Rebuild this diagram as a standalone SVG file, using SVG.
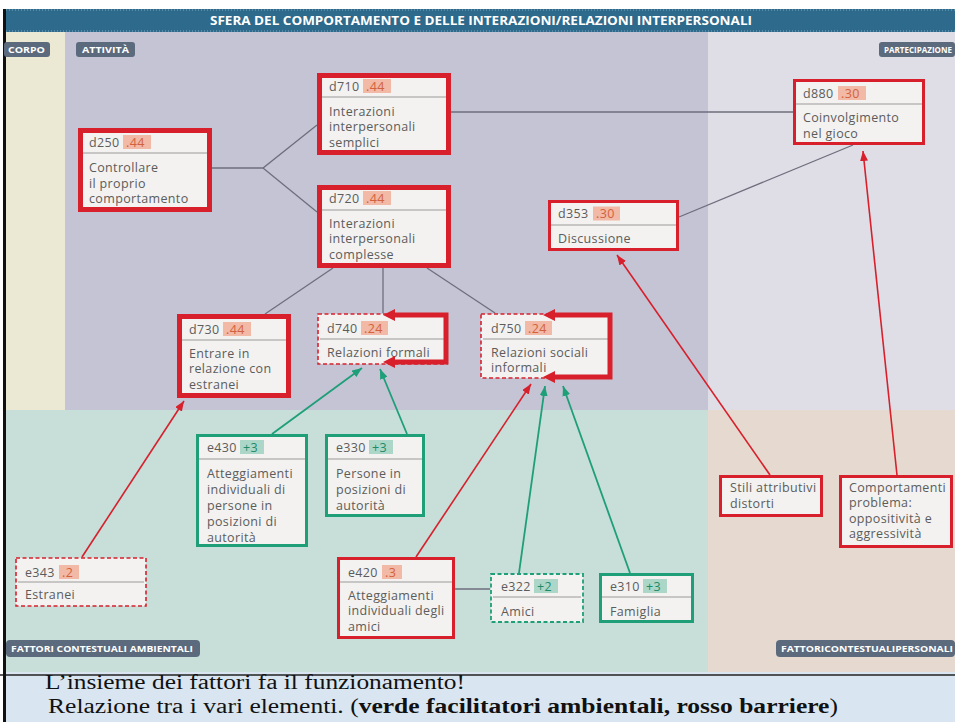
<svg xmlns="http://www.w3.org/2000/svg" width="955" height="722" viewBox="0 0 955 722">
  <defs>
    <style>
      .t { font-family: "Open Sans", "Noto Sans", sans-serif; font-size: 12.5px; letter-spacing: 0.35px; fill: #5c5c5c; }
      .red { stroke: #d7202c; fill: #f3f2f0; }
      .thick { stroke-width: 5; }
      .mid { stroke-width: 3; }
      .dash-r { stroke: #d7202c; stroke-width: 1.6; stroke-dasharray: 4 2.5; fill: #f3f2f0; }
      .green { stroke: #1f9f78; fill: #f3f2f0; stroke-width: 3; }
      .dash-g { stroke: #1f9f78; stroke-width: 1.8; stroke-dasharray: 4 2.5; fill: #f3f2f0; }
      .div { stroke: #9a9a9a; stroke-width: 1; }
      .hr { fill: #f1b9a6; }
      .hrt { fill: #d2623e; }
      .hg { fill: #acd7c8; }
      .hgt { fill: #1f8a68; }
      .link { stroke: #6e6e7c; stroke-width: 1.3; fill: none; }
      .ar { stroke: #d7202c; stroke-width: 1.6; fill: none; marker-end: url(#hr); }
      .ag { stroke: #1f9f78; stroke-width: 1.8; fill: none; marker-end: url(#hg); }
      .bracket { stroke: #d7202c; stroke-width: 5; fill: none; marker-start: url(#hb); marker-end: url(#hb); }
      .tag { fill: #5b6a7c; }
      .tagt { font-family: "Open Sans", "Noto Sans", sans-serif; font-weight: 700; font-size: 8.5px; fill: #ffffff; }
      .foot { font-family: "Liberation Serif", "DejaVu Serif", serif; font-size: 20px; fill: #111111; }
    </style>
    <marker id="hr" viewBox="0 0 10 8" refX="10" refY="4" markerWidth="10" markerHeight="8" markerUnits="userSpaceOnUse" orient="auto">
      <path d="M0,0 L10,4 L0,8 z" fill="#d7202c"/>
    </marker>
    <marker id="hg" viewBox="0 0 10 8" refX="10" refY="4" markerWidth="10" markerHeight="8" markerUnits="userSpaceOnUse" orient="auto">
      <path d="M0,0 L10,4 L0,8 z" fill="#1f9f78"/>
    </marker>
    <marker id="hb" viewBox="0 0 12 12" refX="0" refY="6" markerWidth="12" markerHeight="12" markerUnits="userSpaceOnUse" orient="auto-start-reverse">
      <path d="M0,0 L12,6 L0,12 z" fill="#d7202c"/>
    </marker>
  </defs>

  <!-- page -->
  <rect x="0" y="0" width="955" height="722" fill="#ffffff"/>

  <!-- background zones -->
  <g id="zones">
    <rect x="5" y="32" width="60" height="378" fill="#ebe8d3"/>
    <rect x="65" y="32" width="643" height="378" fill="#c5c4d5"/>
    <rect x="708" y="32" width="247" height="378" fill="#dfdee7"/>
    <rect x="5" y="410" width="703" height="262" fill="#c7ded9"/>
    <rect x="708" y="410" width="247" height="262" fill="#e6dad0"/>
    <rect x="5" y="672" width="950" height="50" fill="#d9e6f1"/>
    <line x1="0" y1="675" x2="955" y2="675" stroke="#222222" stroke-width="1.5"/>
    <rect x="3" y="9" width="3" height="713" fill="#111111"/>
  </g>

  <!-- title band -->
  <g id="title">
    <rect x="6" y="9" width="949" height="23" fill="#2e6a8b"/>
    <line x1="6" y1="10" x2="955" y2="10" stroke="#7fa8bf" stroke-width="1" stroke-dasharray="1 2"/>
    <line x1="6" y1="31" x2="955" y2="31" stroke="#7fa8bf" stroke-width="1" stroke-dasharray="1 2"/>
    <text x="210" y="25" font-family="'Open Sans', 'Noto Sans', sans-serif" font-weight="700" font-size="11.5" fill="#ffffff" textLength="542" lengthAdjust="spacingAndGlyphs">SFERA DEL COMPORTAMENTO E DELLE INTERAZIONI/RELAZIONI INTERPERSONALI</text>
  </g>

  <!-- zone tags -->
  <g id="tags">
    <rect class="tag" x="4" y="42" width="46" height="15" rx="3"/>
    <text class="tagt" x="8" y="52.5" textLength="37" lengthAdjust="spacingAndGlyphs">CORPO</text>
    <rect class="tag" x="76" y="42" width="59" height="15" rx="3"/>
    <text class="tagt" x="82" y="52.5" textLength="47" lengthAdjust="spacingAndGlyphs">ATTIVITÀ</text>
    <rect class="tag" x="879" y="42" width="76" height="15" rx="3"/>
    <text class="tagt" x="884" y="52.5" textLength="68" lengthAdjust="spacingAndGlyphs">PARTECIPAZIONE</text>
    <rect class="tag" x="6" y="640" width="194" height="17" rx="4"/>
    <text class="tagt" x="11" y="651.5" textLength="182" lengthAdjust="spacingAndGlyphs">FATTORI  CONTESTUALI AMBIENTALI</text>
    <rect class="tag" x="776" y="640" width="179" height="17" rx="4"/>
    <text class="tagt" x="781" y="651.5" textLength="172" lengthAdjust="spacingAndGlyphs">FATTORICONTESTUALIPERSONALI</text>
  </g>

  <!-- connectors -->
  <g id="connectors">
    <polyline class="link" points="212,168 263,168 317,125"/>
    <line class="link" x1="263" y1="168" x2="317" y2="212"/>
    <line class="link" x1="451" y1="112" x2="793" y2="112"/>
    <line class="link" x1="679" y1="217" x2="853" y2="145"/>
    <line class="link" x1="333" y1="268" x2="265" y2="314"/>
    <line class="link" x1="383" y1="268" x2="383" y2="313"/>
    <line class="link" x1="427" y1="268" x2="495" y2="313"/>
    <line class="link" x1="455" y1="589" x2="490" y2="589"/>

    <line class="ar" x1="82" y1="557" x2="184" y2="401"/>
    <line class="ar" x1="416" y1="557" x2="531" y2="384"/>
    <line class="ar" x1="770" y1="475" x2="617" y2="255"/>
    <line class="ar" x1="897" y1="475" x2="863" y2="151"/>

    <line class="ag" x1="272" y1="434" x2="362" y2="368"/>
    <line class="ag" x1="407" y1="434" x2="380" y2="369"/>
    <line class="ag" x1="519" y1="573" x2="545" y2="386"/>
    <line class="ag" x1="630" y1="573" x2="563" y2="386"/>
  </g>

  <!-- activity nodes -->
  <g id="d250">
    <rect class="red thick" x="80.5" y="130.5" width="129" height="79"/>
    <line class="div" x1="83" y1="153" x2="207" y2="153"/>
    <text class="t" x="89" y="146.5">d250</text>
    <rect class="hr" x="123" y="135" width="28" height="14"/>
    <text class="t hrt" x="126" y="146.5">.44</text>
    <text class="t" x="89" y="171.5">Controllare</text>
    <text class="t" x="89" y="187.5">il proprio</text>
    <text class="t" x="89" y="203">comportamento</text>
  </g>

  <g id="d710">
    <rect class="red thick" x="319.5" y="75.5" width="129" height="77"/>
    <line class="div" x1="322" y1="97" x2="446" y2="97"/>
    <text class="t" x="329" y="90.5">d710</text>
    <rect class="hr" x="363" y="79" width="28" height="14"/>
    <text class="t hrt" x="366" y="90.5">.44</text>
    <text class="t" x="329" y="115.5">Interazioni</text>
    <text class="t" x="329" y="131">interpersonali</text>
    <text class="t" x="329" y="146.5">semplici</text>
  </g>

  <g id="d720">
    <rect class="red thick" x="319.5" y="187.5" width="129" height="78"/>
    <line class="div" x1="322" y1="210" x2="446" y2="210"/>
    <text class="t" x="329" y="202.5">d720</text>
    <rect class="hr" x="363" y="191" width="28" height="14"/>
    <text class="t hrt" x="366" y="202.5">.44</text>
    <text class="t" x="329" y="227.5">Interazioni</text>
    <text class="t" x="329" y="243">interpersonali</text>
    <text class="t" x="329" y="258.5">complesse</text>
  </g>

  <g id="d730">
    <rect class="red thick" x="179.5" y="316.5" width="109" height="79"/>
    <line class="div" x1="182" y1="340" x2="286" y2="340"/>
    <text class="t" x="189" y="333.5">d730</text>
    <rect class="hr" x="223" y="322" width="28" height="14"/>
    <text class="t hrt" x="226" y="333.5">.44</text>
    <text class="t" x="189" y="357.5">Entrare in</text>
    <text class="t" x="189" y="373">relazione con</text>
    <text class="t" x="189" y="388.5">estranei</text>
  </g>

  <g id="d740">
    <rect class="dash-r" x="318" y="314" width="129" height="50"/>
    <line class="div" x1="320" y1="339" x2="445" y2="339"/>
    <text class="t" x="327" y="332.5">d740</text>
    <rect class="hr" x="361" y="321" width="27" height="14"/>
    <text class="t hrt" x="364" y="332.5">.24</text>
    <text class="t" x="327" y="356.5">Relazioni formali</text>
    <path class="bracket" d="M395,315 H446 V362 H395"/>
  </g>

  <g id="d750">
    <rect class="dash-r" x="481" y="314" width="130" height="64"/>
    <line class="div" x1="483" y1="339" x2="609" y2="339"/>
    <text class="t" x="491" y="332.5">d750</text>
    <rect class="hr" x="525" y="321" width="27" height="14"/>
    <text class="t hrt" x="528" y="332.5">.24</text>
    <text class="t" x="491" y="356.5">Relazioni sociali</text>
    <text class="t" x="491" y="372">informali</text>
    <path class="bracket" d="M555,315 H610 V377 H555"/>
  </g>

  <g id="d353">
    <rect class="red mid" x="549.5" y="201.5" width="128" height="48"/>
    <line class="div" x1="551" y1="225" x2="676" y2="225"/>
    <text class="t" x="558" y="218">d353</text>
    <rect class="hr" x="593" y="206.5" width="27" height="14"/>
    <text class="t hrt" x="596" y="218">.30</text>
    <text class="t" x="558" y="242.5">Discussione</text>
  </g>

  <!-- participation node -->
  <g id="d880">
    <rect class="red mid" x="794.5" y="80.5" width="129" height="63"/>
    <line class="div" x1="796" y1="104" x2="922" y2="104"/>
    <text class="t" x="803" y="97.5">d880</text>
    <rect class="hr" x="838" y="86" width="28" height="14"/>
    <text class="t hrt" x="841" y="97.5">.30</text>
    <text class="t" x="803" y="121.5">Coinvolgimento</text>
    <text class="t" x="803" y="137.5">nel gioco</text>
  </g>

  <!-- environmental factors -->
  <g id="e430">
    <rect class="green" x="197.5" y="435.5" width="109" height="110"/>
    <line class="div" x1="199" y1="459" x2="305" y2="459"/>
    <text class="t" x="207" y="451.5">e430</text>
    <rect class="hg" x="240" y="440" width="24" height="14"/>
    <text class="t hgt" x="243" y="451.5">+3</text>
    <text class="t" x="207" y="477.5">Atteggiamenti</text>
    <text class="t" x="207" y="493.5">individuali di</text>
    <text class="t" x="207" y="509.5">persone in</text>
    <text class="t" x="207" y="525.5">posizioni di</text>
    <text class="t" x="207" y="541.5">autorità</text>
  </g>

  <g id="e330">
    <rect class="green" x="326.5" y="435.5" width="97" height="80"/>
    <line class="div" x1="328" y1="459" x2="422" y2="459"/>
    <text class="t" x="336" y="451.5">e330</text>
    <rect class="hg" x="369" y="440" width="24" height="14"/>
    <text class="t hgt" x="372" y="451.5">+3</text>
    <text class="t" x="336" y="477.5">Persone in</text>
    <text class="t" x="336" y="493.5">posizioni di</text>
    <text class="t" x="336" y="509.5">autorità</text>
  </g>

  <g id="e343">
    <rect class="dash-r" x="16" y="558" width="130" height="48"/>
    <line class="div" x1="18" y1="582" x2="144" y2="582"/>
    <text class="t" x="25" y="576.5">e343</text>
    <rect class="hr" x="59" y="565" width="20" height="14"/>
    <text class="t hrt" x="62" y="576.5">.2</text>
    <text class="t" x="25" y="598.5">Estranei</text>
  </g>

  <g id="e420">
    <rect class="red mid" x="338.5" y="558.5" width="115" height="79"/>
    <line class="div" x1="340" y1="582" x2="452" y2="582"/>
    <text class="t" x="348" y="576.5">e420</text>
    <rect class="hr" x="382" y="565" width="20" height="14"/>
    <text class="t hrt" x="385" y="576.5">.3</text>
    <text class="t" x="348" y="599.5">Atteggiamenti</text>
    <text class="t" x="348" y="615">individuali degli</text>
    <text class="t" x="348" y="630.5">amici</text>
  </g>

  <g id="e322">
    <rect class="dash-g" x="491" y="574" width="92" height="48"/>
    <line class="div" x1="493" y1="597" x2="581" y2="597"/>
    <text class="t" x="501" y="590.5">e322</text>
    <rect class="hg" x="534" y="579" width="24" height="14"/>
    <text class="t hgt" x="537" y="590.5">+2</text>
    <text class="t" x="501" y="615.5">Amici</text>
  </g>

  <g id="e310">
    <rect class="green" x="600.5" y="574.5" width="92" height="47"/>
    <line class="div" x1="602" y1="597" x2="691" y2="597"/>
    <text class="t" x="610" y="590.5">e310</text>
    <rect class="hg" x="643" y="579" width="24" height="14"/>
    <text class="t hgt" x="646" y="590.5">+3</text>
    <text class="t" x="610" y="615.5">Famiglia</text>
  </g>

  <!-- personal factors -->
  <g id="stili">
    <rect class="red mid" x="720.5" y="476.5" width="101" height="39"/>
    <text class="t" x="730" y="492">Stili attributivi</text>
    <text class="t" x="730" y="507.5">distorti</text>
  </g>

  <g id="comportamenti">
    <rect class="red mid" x="840.5" y="476.5" width="111" height="70"/>
    <text class="t" x="849" y="491.5">Comportamenti</text>
    <text class="t" x="849" y="507">problema:</text>
    <text class="t" x="849" y="522.5">oppositività e</text>
    <text class="t" x="849" y="538">aggressività</text>
  </g>

  <!-- caption -->
  <g id="caption">
    <text class="foot" x="45" y="689" textLength="420" lengthAdjust="spacingAndGlyphs">L’insieme dei fattori fa il funzionamento!</text>
    <text class="foot" x="48" y="713" textLength="790" lengthAdjust="spacingAndGlyphs">Relazione tra i vari elementi. (<tspan font-weight="700">verde facilitatori ambientali, rosso barriere</tspan>)</text>
  </g>
</svg>
